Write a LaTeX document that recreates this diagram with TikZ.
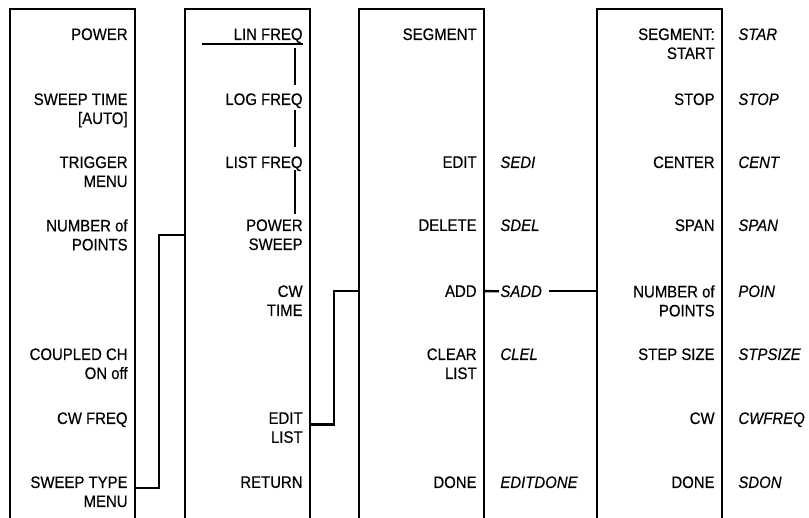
\documentclass[tikz,border=0pt]{standalone}
\usepackage{fontspec}
\newfontfamily\lblfont[FakeStretch=0.9, FakeBold=0.4]{Liberation Sans}
\newcommand{\keyfont}{\lblfont\fontsize{8.3pt}{9.5pt}\selectfont}
\usetikzlibrary{positioning}

\begin{document}
\begin{tikzpicture}[
    x=0.5pt, y=-0.5pt,
    panel/.style={line width=1pt},
    key/.style={anchor=north east, align=right, inner sep=0pt, font=\keyfont},
    mnem/.style={inner sep=0pt, font=\keyfont\itshape},
    link/.style={line width=1.2pt},
    rail/.style={line width=0.7pt}
]
    \useasboundingbox (0,0) rectangle (809,518);
    \coordinate (bot) at (0,518);
    \coordinate (p1l) at (10,9);  \coordinate (p1r) at (135,9);
    \coordinate (p2l) at (185,9); \coordinate (p2r) at (310,9);
    \coordinate (p3l) at (359,9); \coordinate (p3r) at (484,9);
    \coordinate (p4l) at (597,9); \coordinate (p4r) at (722,9);
    \coordinate (j1) at (159,0);
    \coordinate (j2) at (334,0);
    \coordinate (sel) at (295,0);

    % softkey panels, open at the bottom
    \draw[panel] (p1l |- bot) -- (p1l) -- (p1r) -- (p1r |- bot);
    \draw[panel] (p2l |- bot) -- (p2l) -- (p2r) -- (p2r |- bot);
    \draw[panel] (p3l |- bot) -- (p3l) -- (p3r) -- (p3r |- bot);
    \draw[panel] (p4l |- bot) -- (p4l) -- (p4r) -- (p4r |- bot);

    % first panel
    \node[key] (power) at (128,28) {POWER};
    \node[key] (swptime) at (128,93) {SWEEP TIME\\{[AUTO]}};
    \node[key] (trigger) at (128,156) {TRIGGER\\MENU};
    \node[key] (npoints) at (128,219) {NUMBER of\\POINTS};
    \node[key] (coupled) at (128,348) {COUPLED CH\\ON off};
    \node[key] (cwfreq) at (128,412) {CW FREQ};
    \node[key] (swptype) at (128,476) {SWEEP TYPE\\MENU};

    % second panel
    \node[key] (linf) at (303,28) {LIN FREQ};
    \node[key] (logf) at (303,93) {LOG FREQ};
    \node[key] (listf) at (303,156) {LIST FREQ};
    \node[key] (pwrswp) at (303,219) {POWER\\SWEEP};
    \node[key] (cwtime) at (303,285) {CW\\TIME};
    \node[key] (editlist) at (303,412) {EDIT\\LIST};
    \node[key] (ret) at (303,476) {RETURN};

    % third panel
    \node[key] (segment) at (477,28) {SEGMENT};
    \node[key] (edit) at (477,156) {EDIT};
    \node[key] (delete) at (477,219) {DELETE};
    \node[key] (add) at (477,285) {ADD};
    \node[key] (clear) at (477,348) {CLEAR\\LIST};
    \node[key] (done) at (477,476) {DONE};
    \node[mnem, right=11.5pt of edit.north east, anchor=north west] (sedi) {SEDI};
    \node[mnem, right=11.5pt of delete.north east, anchor=north west] (sdel) {SDEL};
    \node[mnem, right=11.5pt of add.north east, anchor=north west] (sadd) {SADD};
    \node[mnem, right=11.5pt of clear.north east, anchor=north west] (clel) {CLEL};
    \node[mnem, right=11.5pt of done.north east, anchor=north west] (editdone) {EDITDONE};

    % fourth panel
    \node[key] (sstart) at (715,28) {SEGMENT:\\START};
    \node[key] (sstop) at (715,93) {STOP};
    \node[key] (center) at (715,156) {CENTER};
    \node[key] (span) at (715,219) {SPAN};
    \node[key] (spoints) at (715,285) {NUMBER of\\POINTS};
    \node[key] (stepsize) at (715,348) {STEP SIZE};
    \node[key] (cw) at (715,412) {CW};
    \node[key] (sdone) at (715,476) {DONE};
    \node[mnem, right=11.5pt of sstart.north east, anchor=north west] (star) {STAR};
    \node[mnem, right=11.5pt of sstop.north east, anchor=north west] (stop) {STOP};
    \node[mnem, right=11.5pt of center.north east, anchor=north west] (cent) {CENT};
    \node[mnem, right=11.5pt of span.north east, anchor=north west] (mspan) {SPAN};
    \node[mnem, right=11.5pt of spoints.north east, anchor=north west] (poin) {POIN};
    \node[mnem, right=11.5pt of stepsize.north east, anchor=north west] (stpsize) {STPSIZE};
    \node[mnem, right=11.5pt of cw.north east, anchor=north west] (mcwfreq) {CWFREQ};
    \node[mnem, right=11.5pt of sdone.north east, anchor=north west] (sdon) {SDON};

    % sweep type selector
    \draw[rail] ([yshift=-2pt]linf.base east) -- ++(-101,0);
    \draw[rail] ([yshift=-4pt]linf.base -| sel) -- ([yshift=4pt]logf.north -| sel);
    \draw[rail] ([yshift=-2.5pt]logf.base -| sel) -- ([yshift=4.5pt]listf.north -| sel);
    \draw[rail] ([yshift=-1pt]listf.base -| sel) -- ([yshift=2.5pt]pwrswp.north -| sel);

    % menu links
    \draw[link] ([yshift=2pt]swptype.east -| p1r) -| (j1 |- npoints) -- (npoints -| p2l);
    \draw[link] ([yshift=1.5pt]editlist.east -| p2r) -| (j2 |- add) -- (add -| p3l);
    \draw[link] (add -| p3r) -- ([xshift=-0.5pt]sadd.west);
    \draw[link] ([xshift=3.5pt]sadd.east) -- (sadd -| p4l);
\end{tikzpicture}
\end{document}
